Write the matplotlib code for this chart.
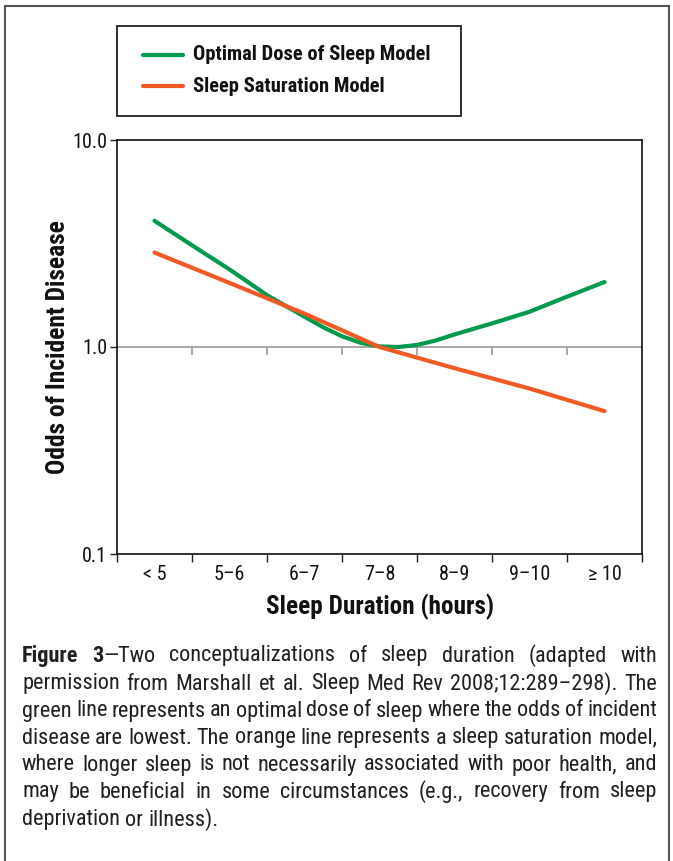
import matplotlib
matplotlib.use("Agg")
import matplotlib.pyplot as plt
from matplotlib.lines import Line2D
from matplotlib.patches import Rectangle
from matplotlib import font_manager
import matplotlib.transforms as mtransforms

# ---------------- data ----------------
categories = ['< 5', '5–6', '6–7', '7–8', '8–9', '9–10', '≥ 10']
optimal_x = [0, 0.5, 1, 1.5, 2, 2.25, 2.5, 2.75, 3, 3.25, 3.5, 3.75, 4, 4.5, 5, 5.5, 6]
optimal_vals = [4.07, 3.10, 2.37, 1.78, 1.40, 1.245, 1.127, 1.047, 1.007, 1.00, 1.023,
                1.075, 1.15, 1.30, 1.48, 1.75, 2.06]
saturation_vals = [2.86, 2.04, 1.45, 1.00, 0.79, 0.63, 0.49]
y_ticks = [0.1, 1.0, 10.0]
y_tick_labels = ['0.1', '1.0', '10.0']
series_names = ['Optimal Dose of Sleep Model', 'Sleep Saturation Model']
colors = ['#009a4e', '#f15a24']

caption_lines = [
    [[("Figure", "bold")], [("3", "bold"), ("—Two", "normal")], "conceptualizations", "of", "sleep",
     "duration", "(adapted", "with"],
    "permission from Marshall et al. Sleep Med Rev 2008;12:289–298). The".split(),
    "green line represents an optimal dose of sleep where the odds of incident".split(),
    "disease are lowest. The orange line represents a sleep saturation model,".split(),
    "where longer sleep is not necessarily associated with poor health, and".split(),
    "may be beneficial in some circumstances (e.g., recovery from sleep".split(),
    "deprivation or illness).".split(),
]

# ---------------- fonts ----------------
flist = font_manager.fontManager.ttflist
names = {f.name for f in flist}
FONT = 'Liberation Sans'
STRETCH = 'normal'
for cand in ['Liberation Sans Narrow', 'Arial Narrow', 'Nimbus Sans Narrow',
             'Roboto Condensed', 'Open Sans Condensed']:
    if cand in names:
        FONT = cand
        break
else:
    for base in ['Roboto', 'Open Sans', 'Noto Sans', 'DejaVu Sans']:
        if any(f.name == base and str(f.stretch) in ('condensed', 'semi-condensed', '75', '87')
               for f in flist):
            FONT = base
            STRETCH = 'condensed'
            break
plt.rcParams['font.family'] = [FONT, 'DejaVu Sans']
plt.rcParams['font.stretch'] = STRETCH

W, H = 673, 861
fig = plt.figure(figsize=(W / 100, H / 100), dpi=100)
fig.patch.set_facecolor('white')

def fx(x):
    return x / W

def fy(y):
    return 1 - y / H

TXT = '#111111'

# outer frame (left, top, right)
fig.add_artist(Line2D([fx(5), fx(5)], [fy(6), fy(870)], color='#555555', lw=1.5))
fig.add_artist(Line2D([fx(5), fx(669)], [fy(6), fy(6)], color='#555555', lw=1.5))
fig.add_artist(Line2D([fx(669), fx(669)], [fy(6), fy(870)], color='#555555', lw=1.5))

# ---------------- axes ----------------
L, R, T, B = 117, 642, 140, 554
ax = fig.add_axes([fx(L), fy(B), (R - L) / W, (B - T) / H])
xs = list(range(len(categories)))
ax.plot(optimal_x, optimal_vals, color=colors[0], lw=3.0, solid_capstyle='round',
        solid_joinstyle='round', zorder=3)
ax.plot(xs, saturation_vals, color=colors[1], lw=3.0, solid_capstyle='round',
        solid_joinstyle='round', zorder=4)

ax.set_yscale('log')
ax.set_ylim(0.1, 10)
ax.set_xlim(-0.5, len(categories) - 0.5)
ax.set_yticks(y_ticks)
ax.set_yticklabels(y_tick_labels)
ax.yaxis.set_minor_locator(matplotlib.ticker.NullLocator())
ax.set_xticks(xs)
ax.set_xticklabels(categories)
bounds = [i - 0.5 for i in range(len(categories) + 1)]
ax.set_xticks(bounds, minor=True)
ax.tick_params(axis='x', which='major', length=0, pad=8, labelsize=14.5, labelcolor=TXT)
ax.tick_params(axis='x', which='minor', length=6, width=1.0, direction='out', color='#222222')
ax.tick_params(axis='y', which='major', length=5, width=1.0, direction='out', pad=2,
               labelsize=14.5, labelcolor=TXT, color='#222222')
for s in ax.spines.values():
    s.set_linewidth(1.2)
    s.set_color('#111111')

# reference line at 1.0 with small hanging ticks
ax.axhline(1.0, color='#9a9a9a', lw=1.2, zorder=1)
trans = mtransforms.blended_transform_factory(ax.transData, ax.transAxes)
ax.vlines(bounds[1:-1], 0.481, 0.5, transform=trans, color='#9a9a9a', lw=1.2, zorder=1)

ax.set_xlabel('Sleep Duration (hours)', fontsize=18.2, fontweight='bold', labelpad=7, color=TXT)
ax.set_ylabel('Odds of Incident Disease', fontsize=18.4, fontweight='bold', labelpad=1.5, color=TXT)

# ---------------- legend box ----------------
fig.add_artist(Rectangle((fx(117), fy(116)), (461 - 117) / W, (116 - 26) / H,
                         transform=fig.transFigure, fill=False, ec='#222222', lw=1.3))
for i, (name, c) in enumerate(zip(series_names, colors)):
    yy = [55, 86][i]
    fig.add_artist(Line2D([fx(143), fx(183)], [fy(yy), fy(yy)], color=c, lw=3.0,
                          solid_capstyle='round'))
    fig.text(fx(193), fy(yy), name, fontsize=14.8, fontweight='bold', va='center',
             ha='left', color=TXT)

# ---------------- justified caption ----------------
fig.canvas.draw()
renderer = fig.canvas.get_renderer()
CAP_SIZE = 16
left_px, right_px = 22, 657
line_y = [656, 684, 711, 738, 765, 792, 820]

def word_parts(w):
    return w if isinstance(w, list) else [(w, 'normal')]

def measure(text, weight):
    t = fig.text(0, 0, text, fontsize=CAP_SIZE, fontweight=weight)
    bb = t.get_window_extent(renderer)
    t.remove()
    return bb.width

space_w = measure('a a', 'normal') - measure('aa', 'normal')

for li, words in enumerate(caption_lines):
    widths = []
    for w in words:
        widths.append(sum(measure(p, wt) for p, wt in word_parts(w)))
    total = sum(widths)
    last = li == len(caption_lines) - 1
    gap = space_w if last else max((right_px - left_px - total) / (len(words) - 1), 1.5)
    x = left_px
    for w, wd in zip(words, widths):
        xx = x
        for p, wt in word_parts(w):
            fig.text(fx(xx), fy(line_y[li]), p, fontsize=CAP_SIZE, fontweight=wt,
                     va='center', ha='left', color='#231f20')
            xx += measure(p, wt)
        x += wd + gap

fig.savefig('out.png', dpi=100, facecolor='white')
